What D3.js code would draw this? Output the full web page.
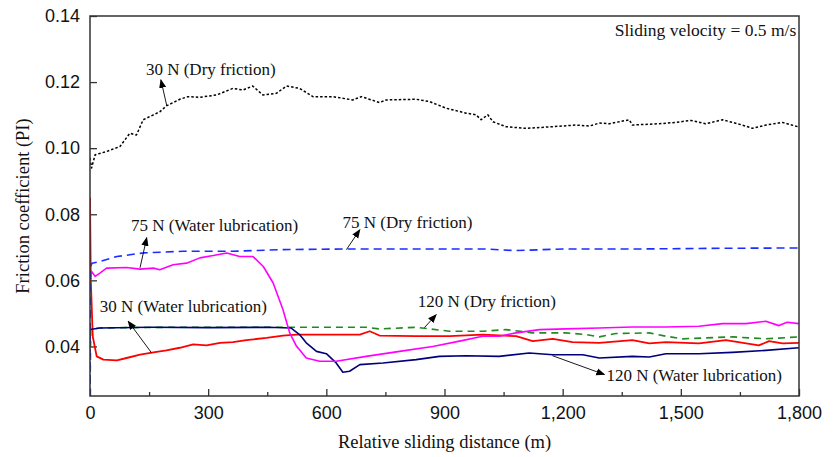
<!DOCTYPE html>
<html>
<head>
<meta charset="utf-8">
<script src="https://cdn.jsdelivr.net/npm/d3@7"></script>
<style>
  body { margin: 0; background: #fff; }
  svg { display: block; }
</style>
</head>
<body>
<div id="chart"></div>
<script>
// distances (m) and friction coefficients
const dry30Dist = [0, 4, 13, 42, 76, 101, 118, 135, 177, 194, 228, 249, 279, 321, 363, 388, 413, 439, 473, 499, 532, 566, 617, 667, 689, 735, 752, 828, 862, 904, 955, 980, 993, 1010, 1023, 1056, 1107, 1175, 1234, 1268, 1293, 1318, 1369, 1377, 1445, 1487, 1525, 1563, 1606, 1631, 1656, 1682, 1716, 1758, 1800];
const dry30Val = [0.097, 0.094, 0.098, 0.099, 0.1005, 0.1045, 0.104, 0.1086, 0.111, 0.1128, 0.1148, 0.1156, 0.1154, 0.1161, 0.1181, 0.1176, 0.1188, 0.1161, 0.1166, 0.1188, 0.1181, 0.1156, 0.1156, 0.1146, 0.1156, 0.1138, 0.1146, 0.1148, 0.1141, 0.1121, 0.1106, 0.1101, 0.1086, 0.1101, 0.108, 0.1065, 0.106, 0.1065, 0.107, 0.1067, 0.1076, 0.1074, 0.1086, 0.107, 0.1074, 0.1078, 0.1084, 0.1074, 0.1086, 0.1078, 0.107, 0.106, 0.107, 0.1078, 0.1064];

const dry75Dist = [0, 1, 5, 25, 68, 135, 236, 363, 490, 650, 800, 1000, 1080, 1200, 1400, 1600, 1800];
const dry75Val = [0.025, 0.064, 0.0652, 0.0657, 0.0672, 0.0683, 0.0688, 0.0688, 0.0693, 0.0695, 0.0695, 0.0695, 0.069, 0.0695, 0.0695, 0.0697, 0.0698];

const wet75Dist = [0, 4, 13, 25, 42, 93, 127, 161, 177, 211, 245, 279, 313, 347, 380, 414, 440, 465, 490, 507, 524, 532, 549, 583, 625, 701, 786, 870, 938, 997, 1039, 1082, 1141, 1208, 1293, 1377, 1462, 1546, 1606, 1665, 1716, 1749, 1770, 1800];
const wet75Val = [0.0602, 0.0627, 0.0612, 0.0622, 0.0637, 0.0639, 0.0634, 0.0637, 0.0632, 0.0647, 0.0652, 0.0668, 0.0675, 0.0683, 0.0672, 0.0672, 0.0642, 0.0592, 0.0511, 0.0441, 0.0401, 0.039, 0.0365, 0.0355, 0.0355, 0.037, 0.0385, 0.04, 0.0416, 0.0431, 0.0431, 0.0441, 0.0451, 0.0453, 0.0456, 0.0459, 0.0459, 0.0461, 0.0469, 0.0469, 0.0476, 0.0463, 0.0473, 0.0469];

const wet30Dist = [0, 2, 7, 17, 34, 68, 93, 127, 161, 194, 228, 262, 296, 330, 363, 397, 448, 490, 524, 617, 685, 710, 735, 828, 913, 997, 1082, 1124, 1175, 1225, 1293, 1377, 1420, 1462, 1546, 1614, 1698, 1724, 1758, 1800];
const wet30Val = [0.085, 0.06, 0.043, 0.037, 0.036, 0.0358, 0.0365, 0.0375, 0.0382, 0.0388, 0.0396, 0.0406, 0.0403, 0.0411, 0.0413, 0.0419, 0.0426, 0.0433, 0.0436, 0.0436, 0.0436, 0.0446, 0.0433, 0.0431, 0.0431, 0.0436, 0.0431, 0.0416, 0.0423, 0.0413, 0.0411, 0.0419, 0.0409, 0.0413, 0.0409, 0.0419, 0.0403, 0.0416, 0.0409, 0.0411];

const dry120Dist = [0, 2, 25, 200, 400, 532, 701, 735, 828, 913, 997, 1056, 1124, 1208, 1259, 1293, 1335, 1420, 1462, 1504, 1631, 1716, 1800];
const dry120Val = [0.025, 0.0452, 0.0456, 0.0458, 0.0458, 0.0458, 0.0458, 0.0453, 0.0458, 0.0446, 0.0446, 0.0451, 0.0441, 0.0441, 0.0436, 0.0429, 0.0439, 0.0441, 0.0431, 0.0423, 0.0429, 0.0423, 0.0429];

const wet120Dist = [0, 25, 150, 300, 450, 510, 532, 549, 575, 600, 625, 642, 659, 685, 744, 828, 887, 955, 1039, 1115, 1175, 1251, 1293, 1377, 1420, 1462, 1546, 1631, 1716, 1800];
const wet120Val = [0.0451, 0.0456, 0.0458, 0.0457, 0.0458, 0.0456, 0.0436, 0.0411, 0.0385, 0.0378, 0.035, 0.0322, 0.0325, 0.0345, 0.035, 0.036, 0.037, 0.0372, 0.037, 0.038, 0.0375, 0.0375, 0.0365, 0.037, 0.0368, 0.0378, 0.0378, 0.0382, 0.0388, 0.0396];

const xTicks = [0, 300, 600, 900, 1200, 1500, 1800];
const xMinorTicks = [150, 450, 750, 1050, 1350, 1650];
const yTicks = [0.04, 0.06, 0.08, 0.10, 0.12, 0.14];

const width = 835, height = 457;
const margin = { top: 16, right: 36, bottom: 61, left: 90 };
const chartWidth = width - margin.left - margin.right;
const chartHeight = height - margin.top - margin.bottom;

const svg = d3.select("#chart").append("svg")
  .attr("width", width)
  .attr("height", height);

const defs = svg.append("defs");
defs.append("marker")
  .attr("id", "arrow")
  .attr("viewBox", "0 0 10 10")
  .attr("refX", 9)
  .attr("refY", 5)
  .attr("markerWidth", 9)
  .attr("markerHeight", 9)
  .attr("markerUnits", "userSpaceOnUse")
  .attr("orient", "auto")
  .append("path")
  .attr("d", "M0,1 L10,5 L0,9 Z")
  .attr("fill", "#000");
defs.append("clipPath").attr("id", "clip")
  .append("rect").attr("width", chartWidth).attr("height", chartHeight);

const g = svg.append("g")
  .attr("transform", `translate(${margin.left},${margin.top})`);

const x = d3.scaleLinear().domain([0, 1800]).range([0, chartWidth]);
const y = d3.scaleLinear().domain([0.025, 0.14]).range([chartHeight, 0]);

// axes, ticks pointing inward
g.append("g")
  .attr("transform", `translate(0,${chartHeight})`)
  .call(d3.axisBottom(x).tickValues(xTicks).tickSize(-7).tickPadding(10).tickFormat(d3.format(",")));
g.append("g")
  .attr("transform", `translate(0,${chartHeight})`)
  .call(d3.axisBottom(x).tickValues(xMinorTicks).tickSize(-4).tickFormat(""));
g.append("g")
  .call(d3.axisLeft(y).tickValues(yTicks).tickSize(-7).tickPadding(10).tickFormat(d3.format(".2f")));

g.selectAll(".domain").remove();
g.selectAll(".tick line").attr("stroke", "#333").attr("stroke-width", 1.3);
g.selectAll(".tick text")
  .style("font-family", "'Liberation Sans', Arial, sans-serif")
  .style("font-size", "18px")
  .attr("fill", "#111");

// series
const series = [
  { dist: wet30Dist, val: wet30Val, color: "#ff0000", dash: null, w: 1.8 },
  { dist: dry120Dist, val: dry120Val, color: "#1f8a1f", dash: "7,5", w: 1.6 },
  { dist: wet120Dist, val: wet120Val, color: "#00007a", dash: null, w: 1.6 },
  { dist: wet75Dist, val: wet75Val, color: "#ff00ff", dash: null, w: 1.6 },
  { dist: dry75Dist, val: dry75Val, color: "#1a2cff", dash: "8,5", w: 1.6 },
  { dist: dry30Dist, val: dry30Val, color: "#000000", dash: "2.5,2", w: 1.5 }
];

const line = d3.line()
  .x(d => x(d[0]))
  .y(d => y(d[1]));

const plot = g.append("g").attr("clip-path", "url(#clip)");
series.forEach(s => {
  plot.append("path")
    .datum(d3.zip(s.dist, s.val))
    .attr("fill", "none")
    .attr("stroke", s.color)
    .attr("stroke-width", s.w)
    .attr("stroke-dasharray", s.dash)
    .attr("stroke-linejoin", "round")
    .attr("d", line);
});

// frame
g.append("rect")
  .attr("width", chartWidth)
  .attr("height", chartHeight)
  .attr("fill", "none")
  .attr("stroke", "#333")
  .attr("stroke-width", 1.5);

// annotations: text position and arrow from the curve to the label (data units)
const notes = [
  { text: "30 N (Dry friction)", tx: 142, ty: 0.1222, from: [195, 0.1128], to: [180, 0.1207] },
  { text: "75 N (Water lubrication)", tx: 104, ty: 0.0750, from: [127, 0.0638], to: [144, 0.0729] },
  { text: "75 N (Dry friction)", tx: 641, ty: 0.0759, from: [651, 0.0693], to: [685, 0.0753] },
  { text: "30 N (Water lubrication)", tx: 25, ty: 0.0505, from: [156, 0.0381], to: [97, 0.0476] },
  { text: "120 N (Dry friction)", tx: 832, ty: 0.0518, from: [849, 0.0457], to: [879, 0.0496] },
  { text: "120 N (Water lubrication)", tx: 1311, ty: 0.0294, from: [1174, 0.0372], to: [1306, 0.0315] }
];

notes.forEach(n => {
  g.append("line")
    .attr("x1", x(n.from[0])).attr("y1", y(n.from[1]))
    .attr("x2", x(n.to[0])).attr("y2", y(n.to[1]))
    .attr("stroke", "#000")
    .attr("stroke-width", 0.9)
    .attr("marker-end", "url(#arrow)");
  g.append("text")
    .attr("x", x(n.tx))
    .attr("y", y(n.ty))
    .text(n.text)
    .style("font-family", "'Liberation Serif', 'Times New Roman', serif")
    .style("font-size", "17px")
    .attr("fill", "#111");
});

g.append("text")
  .attr("x", x(1793))
  .attr("y", y(0.134))
  .attr("text-anchor", "end")
  .text("Sliding velocity = 0.5 m/s")
  .style("font-family", "'Liberation Serif', 'Times New Roman', serif")
  .style("font-size", "17.5px")
  .attr("fill", "#111");

// axis titles
svg.append("text")
  .attr("x", margin.left + chartWidth / 2)
  .attr("y", 448)
  .attr("text-anchor", "middle")
  .text("Relative sliding distance (m)")
  .style("font-family", "'Liberation Serif', 'Times New Roman', serif")
  .style("font-size", "18.5px")
  .attr("fill", "#111");

svg.append("text")
  .attr("transform", `translate(29,${margin.top + chartHeight / 2}) rotate(-90)`)
  .attr("text-anchor", "middle")
  .text("Friction coefficient (PI)")
  .style("font-family", "'Liberation Serif', 'Times New Roman', serif")
  .style("font-size", "18.5px")
  .attr("fill", "#111");
</script>
</body>
</html>
